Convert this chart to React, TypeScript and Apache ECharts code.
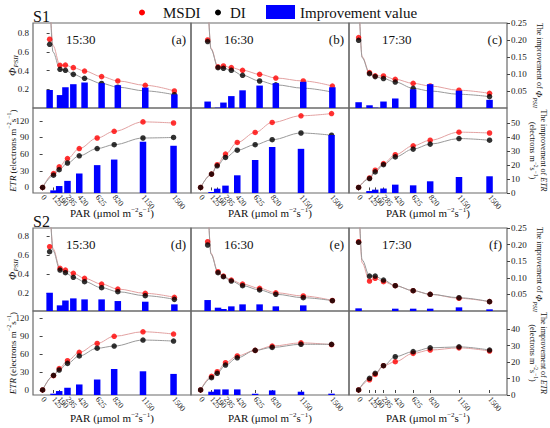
import React, { useEffect, useRef } from "react";
import * as echarts from "echarts";

const FONT = '"Liberation Serif","Times New Roman",serif';

// PAR levels (µmol m-2 s-1)
const PAR = [0, 125, 190, 285, 420, 625, 820, 1150, 1500];

// ---------- S1, ΦPSII ----------
const A_PHI_MSDI = [0.736, 0.457, 0.46, 0.432, 0.396, 0.336, 0.29, 0.243, 0.182];
const A_PHI_DI = [0.682, 0.414, 0.404, 0.36, 0.318, 0.263, 0.223, 0.183, 0.142];
const A_PHI_IMP = [0.053, 0.038, 0.061, 0.07, 0.075, 0.073, 0.067, 0.06, 0.04];
const A_PHI_HEAD = [0.67, 0.6];

const B_PHI_MSDI = [0.729, 0.44, 0.45, 0.432, 0.404, 0.361, 0.321, 0.289, 0.235];
const B_PHI_DI = [0.711, 0.432, 0.425, 0.404, 0.35, 0.289, 0.248, 0.212, 0.17];
const B_PHI_IMP = [0.019, 0.001, 0.016, 0.035, 0.052, 0.066, 0.073, 0.077, 0.061];
const B_PHI_HEAD = [0.64, 0.63];

const C_PHI_MSDI = [0.754, 0.379, 0.345, 0.343, 0.307, 0.264, 0.236, 0.19, 0.157];
const C_PHI_DI = [0.725, 0.368, 0.336, 0.315, 0.278, 0.211, 0.182, 0.147, 0.122];
const C_PHI_IMP = [0.017, 0.008, 0.001, 0.019, 0.028, 0.055, 0.07, 0.051, 0.024];
const C_PHI_HEAD = [0.55, 0.54];

// ---------- S1, ETR ----------
const A_ETR_MSDI = [0, 25, 37, 52, 70, 89, 101, 118, 116];
const A_ETR_DI = [0, 22, 32, 44, 57, 70, 77, 89, 90];
const A_ETR_IMP = [0, 1.9, 5, 8.7, 14, 20, 24, 36.8, 33.9];

const B_ETR_MSDI = [0, 24, 41, 60, 81, 99, 117, 129, 133];
const B_ETR_DI = [0, 24, 39, 54, 67, 77, 86, 98, 94];
const B_ETR_IMP = [0, 0.7, 3.1, 5.3, 12.7, 23.6, 33, 31.7, 41.6];

const C_ETR_MSDI = [0, 17, 31, 43, 59, 75, 85, 99.5, 98];
const C_ETR_DI = [0, 16, 28, 41, 55, 69, 78, 88, 85];
const C_ETR_IMP = [0, 1.4, 2.4, 3.2, 6, 5.5, 8.4, 11.5, 12];

// ---------- S2, ΦPSII ----------
const D_PHI_MSDI = [0.688, 0.462, 0.444, 0.409, 0.357, 0.297, 0.245, 0.2, 0.158];
const D_PHI_DI = [0.636, 0.444, 0.416, 0.368, 0.322, 0.259, 0.217, 0.175, 0.137];
const D_PHI_IMP = [0.055, 0.017, 0.032, 0.038, 0.035, 0.035, 0.03, 0.028, 0.02];
const D_PHI_HEAD = [0.67, 0.65];

const E_PHI_MSDI = [0.74, 0.426, 0.381, 0.339, 0.297, 0.252, 0.206, 0.172, 0.125];
const E_PHI_DI = [0.706, 0.416, 0.374, 0.329, 0.28, 0.235, 0.19, 0.154, 0.123];
const E_PHI_IMP = [0.033, 0.01, 0.006, 0.014, 0.02, 0.02, 0.014, 0.017, 0];
const E_PHI_HEAD = [0.62, 0.61];

const F_PHI_MSDI = [0.74, 0.329, 0.357, 0.322, 0.28, 0.228, 0.19, 0.148, 0.113];
const F_PHI_DI = [0.734, 0.381, 0.381, 0.339, 0.28, 0.228, 0.19, 0.154, 0.113];
const F_PHI_IMP = [0.008, 0, 0, 0, 0.007, 0.007, 0.007, 0.011, 0.005];
const F_PHI_HEAD = [0.52, 0.55];

// ---------- S2, ETR ----------
const D_ETR_MSDI = [0, 24, 36, 49, 63, 78, 90, 97.6, 93.7];
const D_ETR_DI = [0, 24.5, 33.5, 44.6, 57, 70, 73.6, 83.7, 82];
const D_ETR_IMP = [0, 0.8, 2.4, 4.4, 6.4, 9.4, 15.8, 14.4, 12.8];

const E_ETR_MSDI = [0, 23, 30.7, 45.7, 57, 66.4, 73.6, 79, 76];
const E_ETR_DI = [0, 20.6, 28, 41.8, 54, 66.4, 71.4, 76.6, 76.6];
const E_ETR_IMP = [0, 2, 3.4, 3.4, 3.4, 0.8, 2.8, 2, 0.8];

const F_ETR_MSDI = [0, 17, 26, 40.7, 47.4, 61.4, 67, 70.6, 65.3];
const F_ETR_DI = [0, 19.6, 28, 40.7, 55.8, 64.3, 70.6, 72.3, 67];
const F_ETR_IMP = [0, 0, 0, 0, 0, 0, 0, 0, 0];

// tick labels
const PHI_TICKS = [0.2, 0.4, 0.6, 0.8];
const ETR_TICKS = [0, 30, 60, 90, 120];
const IMP_PHI_TICKS = [0.05, 0.1, 0.15, 0.2, 0.25];
const IMP_ETR1_TICKS = [0, 10, 20, 30, 40, 50];
const IMP_ETR2_TICKS = [0, 10, 20, 30, 40];

const TIMES = ["15:30", "16:30", "17:30"];
const LETTERS = ["(a)", "(b)", "(c)", "(d)", "(e)", "(f)"];

// layout
const COL_LEFT = [33, 191, 349];
const PANEL_W = 158;
const ROW_TOP = [23, 108, 228, 311];
const ROW_H = [85, 85, 83, 84];
const X_WIDE = [-200, 1700];
const X_STD = [-110, 1700];
const LEFT_RANGE = [[0, 0.91], [-10, 143], [0.015, 0.884], [-8.4, 132.4]];
const RIGHT_RANGE = [[0, 0.25], [0, 61], [0, 0.25], [0, 51]];

type Panel = { msdi: number[]; di: number[]; imp: number[]; head?: number[]; xr: number[] };

const PANELS: Panel[] = [
  { msdi: A_PHI_MSDI, di: A_PHI_DI, imp: A_PHI_IMP, head: A_PHI_HEAD, xr: X_WIDE },
  { msdi: B_PHI_MSDI, di: B_PHI_DI, imp: B_PHI_IMP, head: B_PHI_HEAD, xr: X_WIDE },
  { msdi: C_PHI_MSDI, di: C_PHI_DI, imp: C_PHI_IMP, head: C_PHI_HEAD, xr: X_STD },
  { msdi: A_ETR_MSDI, di: A_ETR_DI, imp: A_ETR_IMP, xr: X_STD },
  { msdi: B_ETR_MSDI, di: B_ETR_DI, imp: B_ETR_IMP, xr: X_STD },
  { msdi: C_ETR_MSDI, di: C_ETR_DI, imp: C_ETR_IMP, xr: X_STD },
  { msdi: D_PHI_MSDI, di: D_PHI_DI, imp: D_PHI_IMP, head: D_PHI_HEAD, xr: X_WIDE },
  { msdi: E_PHI_MSDI, di: E_PHI_DI, imp: E_PHI_IMP, head: E_PHI_HEAD, xr: X_WIDE },
  { msdi: F_PHI_MSDI, di: F_PHI_DI, imp: F_PHI_IMP, head: F_PHI_HEAD, xr: X_STD },
  { msdi: D_ETR_MSDI, di: D_ETR_DI, imp: D_ETR_IMP, xr: X_STD },
  { msdi: E_ETR_MSDI, di: E_ETR_DI, imp: E_ETR_IMP, xr: X_STD },
  { msdi: F_ETR_MSDI, di: F_ETR_DI, imp: F_ETR_IMP, xr: X_STD },
];

const RED = "#ff0000";
const BLUE = "#0000ff";
const PINK = "#e3a2a2";
const GRAY = "#9a9a9a";
const BORDER = "#6a6a6a";

const pairs = (vals: number[]) => PAR.map((p, k) => [p, vals[k]]);
const curve = (vals: number[], head?: number) =>
  head === undefined
    ? pairs(vals)
    : [[6, 1.1], [40, head], ...PAR.slice(1).map((p, k) => [p, vals[k + 1]])];

const richSub = {
  phi: { fontSize: 11, fontStyle: "italic", fontFamily: FONT, lineHeight: 14, verticalAlign: "middle", fill: "#111" },
  sub: { fontSize: 7, fontStyle: "italic", fontFamily: FONT, lineHeight: 14, verticalAlign: "bottom", fill: "#111" },
  n: { fontSize: 9, fontFamily: FONT, lineHeight: 14, verticalAlign: "middle", fill: "#111" },
  i: { fontSize: 9, fontStyle: "italic", fontFamily: FONT, lineHeight: 14, verticalAlign: "middle", fill: "#111" },
  sup: { fontSize: 6, fontFamily: FONT, lineHeight: 14, verticalAlign: "top", fill: "#111" },
};

function txt(text: string, x: number, y: number, fontSize: number, opts: any = {}) {
  return {
    type: "text",
    x,
    y,
    rotation: opts.rotation || 0,
    silent: true,
    style: {
      text,
      fontSize,
      fontFamily: FONT,
      fontStyle: opts.italic ? "italic" : "normal",
      fill: "#111",
      align: opts.align || "left",
      verticalAlign: "middle",
      rich: opts.rich,
    },
  };
}

export default function App() {
  const ref = useRef<HTMLDivElement>(null);
  useEffect(() => {
    if (!ref.current) return;
    const chart = echarts.init(ref.current, undefined, { renderer: "svg" });
    const grids: any[] = [];
    const xAxes: any[] = [];
    const yAxes: any[] = [];
    const series: any[] = [];

    PANELS.forEach((p, i) => {
      const row = Math.floor(i / 3);
      const col = i % 3;
      const isBottom = row % 2 === 1;
      const isPhi = !isBottom;
      grids.push({
        left: COL_LEFT[col],
        top: ROW_TOP[row],
        width: PANEL_W,
        height: ROW_H[row],
        show: true,
        borderColor: BORDER,
        borderWidth: 1.2,
        backgroundColor: "transparent",
      });
      xAxes.push({
        type: "value",
        gridIndex: i,
        min: p.xr[0],
        max: p.xr[1],
        axisLine: { show: false },
        splitLine: { show: false },
        axisTick: isBottom
          ? { show: true, customValues: PAR, length: 3, lineStyle: { color: "#444" } }
          : { show: false },
        axisLabel: isBottom
          ? {
              show: true,
              customValues: PAR,
              rotate: -50,
              fontSize: 8,
              fontFamily: FONT,
              color: "#222",
              margin: 3,
              formatter: (v: number) => String(v),
            }
          : { show: false },
      });
      const lticks = isPhi ? PHI_TICKS : ETR_TICKS;
      yAxes.push({
        type: "value",
        gridIndex: i,
        position: "left",
        min: LEFT_RANGE[row][0],
        max: LEFT_RANGE[row][1],
        axisLine: { show: false },
        splitLine: { show: false },
        axisTick: col === 0 ? { show: true, customValues: lticks, length: 3, lineStyle: { color: "#444" } } : { show: false },
        axisLabel:
          col === 0
            ? {
                show: true,
                customValues: lticks,
                fontSize: 9,
                fontFamily: FONT,
                color: "#222",
                margin: 4,
                formatter: (v: number) => (isPhi ? v.toFixed(1) : String(v)),
              }
            : { show: false },
      });
      const rticks = isPhi ? IMP_PHI_TICKS : row === 1 ? IMP_ETR1_TICKS : IMP_ETR2_TICKS;
      yAxes.push({
        type: "value",
        gridIndex: i,
        position: "right",
        min: RIGHT_RANGE[row][0],
        max: RIGHT_RANGE[row][1],
        axisLine: { show: false },
        splitLine: { show: false },
        axisTick: col === 2 ? { show: true, customValues: rticks, length: 3, lineStyle: { color: "#444" } } : { show: false },
        axisLabel:
          col === 2
            ? {
                show: true,
                customValues: rticks,
                fontSize: 9,
                fontFamily: FONT,
                color: "#222",
                margin: 4,
                formatter: (v: number) => (isPhi ? v.toFixed(2) : String(v)),
              }
            : { show: false },
      });
      const common = { xAxisIndex: i, yAxisIndex: 2 * i, silent: true, animation: false };
      series.push({
        ...common,
        type: "line",
        name: "MSDI fit",
        data: curve(p.msdi, p.head ? p.head[0] : undefined),
        smooth: 0.35,
        smoothMonotone: "x",
        showSymbol: false,
        lineStyle: { color: PINK, width: 1 },
        z: 1,
      });
      series.push({
        ...common,
        type: "line",
        name: "DI fit",
        data: curve(p.di, p.head ? p.head[1] : undefined),
        smooth: 0.35,
        smoothMonotone: "x",
        showSymbol: false,
        lineStyle: { color: GRAY, width: 1 },
        z: 1,
      });
      series.push({
        ...common,
        type: "scatter",
        name: "MSDI",
        data: pairs(p.msdi),
        symbolSize: 5.5,
        itemStyle: { color: RED },
        z: 2,
      });
      series.push({
        ...common,
        type: "scatter",
        name: "DI",
        data: pairs(p.di),
        symbolSize: 5.5,
        itemStyle: { color: "#000" },
        z: 3,
      });
      series.push({
        xAxisIndex: i,
        yAxisIndex: 2 * i + 1,
        silent: true,
        type: "bar",
        name: "Improvement value",
        data: pairs(p.imp),
        barWidth: 6.5,
        itemStyle: { color: BLUE },
        z: 4,
      });
    });

    const graphics: any[] = [];
    // legend
    graphics.push({ type: "circle", shape: { cx: 142, cy: 12.5, r: 3 }, style: { fill: RED }, silent: true });
    graphics.push(txt("MSDI", 163, 12.5, 15));
    graphics.push({ type: "circle", shape: { cx: 218, cy: 12.5, r: 3 }, style: { fill: "#000" }, silent: true });
    graphics.push(txt("DI", 230, 12.5, 15));
    graphics.push({ type: "rect", shape: { x: 266, y: 5, width: 29, height: 14 }, style: { fill: BLUE }, silent: true });
    graphics.push(txt("Improvement value", 300, 12.5, 15));
    // S labels
    graphics.push(txt("S1", 33, 16, 16));
    graphics.push(txt("S2", 33, 221, 16));
    // time and letter labels
    [0, 2].forEach((row, s) => {
      for (let col = 0; col < 3; col++) {
        const cy = ROW_TOP[row] + 16;
        graphics.push(txt(TIMES[col], COL_LEFT[col] + 33, cy, 13));
        graphics.push(txt(LETTERS[s * 3 + col], COL_LEFT[col] + PANEL_W - 5, cy, 13, { align: "right" }));
      }
    });
    // PAR axis names
    [213, 418].forEach((y) => {
      for (let col = 0; col < 3; col++) {
        graphics.push(
          txt("{n|PAR (μmol m}{sup|−2}{n|s}{sup|−1}{n|)}", COL_LEFT[col] + PANEL_W / 2, y, 11, {
            align: "center",
            rich: {
              n: { ...richSub.n, fontSize: 11 },
              sup: { ...richSub.sup, fontSize: 7 },
            },
          })
        );
      }
    });
    // left and right titles
    [0, 2].forEach((row) => {
      graphics.push(
        txt("{phi|Φ}{sub|PSII}", 12, ROW_TOP[row] + ROW_H[row] / 2, 11, {
          align: "center",
          rotation: Math.PI / 2,
          rich: richSub,
        })
      );
      const r2 = row + 1;
      graphics.push(
        txt("{i|ETR}{n| (electrons m}{sup|−2}{n|s}{sup|−1}{n|)}", 13, ROW_TOP[r2] + ROW_H[r2] / 2, 9, {
          align: "center",
          rotation: Math.PI / 2,
          rich: richSub,
        })
      );
      graphics.push(
        txt("{n|The improvement of }{phi|Φ}{sub|PSII}", 539, ROW_TOP[row] + ROW_H[row] / 2, 8, {
          align: "center",
          rotation: -Math.PI / 2,
          rich: {
            n: { ...richSub.n, fontSize: 8 },
            phi: { ...richSub.phi, fontSize: 9 },
            sub: { ...richSub.sub, fontSize: 6 },
          },
        })
      );
      graphics.push(
        txt("{n|The improvement of }{i|ETR}", 543, ROW_TOP[r2] + ROW_H[r2] / 2, 8, {
          align: "center",
          rotation: -Math.PI / 2,
          rich: { n: { ...richSub.n, fontSize: 8 }, i: { ...richSub.i, fontSize: 8 } },
        })
      );
      graphics.push(
        txt("{n|(electrons m}{sup|−2}{n|s}{sup|−1}{n|)}", 532, ROW_TOP[r2] + ROW_H[r2] / 2, 8, {
          align: "center",
          rotation: -Math.PI / 2,
          rich: { n: { ...richSub.n, fontSize: 8 }, sup: { ...richSub.sup, fontSize: 5.5 } },
        })
      );
    });

    chart.setOption({
      animation: false,
      backgroundColor: "#ffffff",
      textStyle: { fontFamily: FONT },
      grid: grids,
      xAxis: xAxes,
      yAxis: yAxes,
      series,
      graphic: graphics,
    });
    return () => chart.dispose();
  }, []);
  return <div ref={ref} style={{ position: "fixed", left: 0, top: 0, width: 550, height: 428 }} />;
}
